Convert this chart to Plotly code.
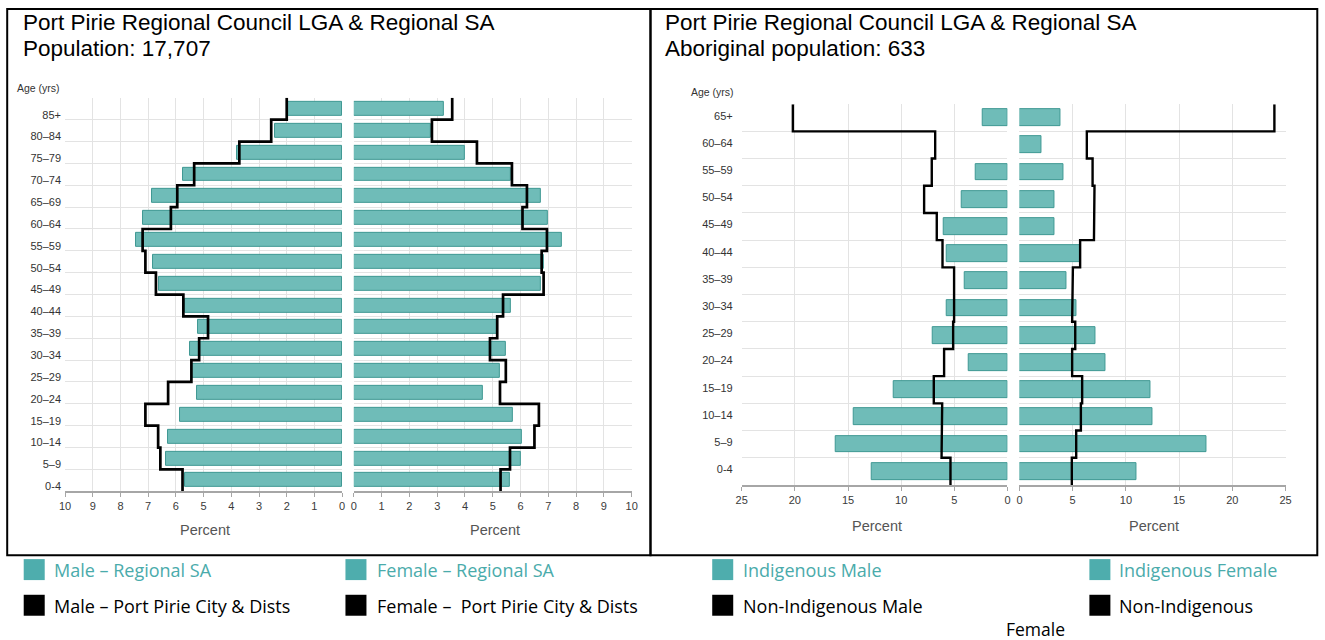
import plotly.graph_objects as go

W, H = 1325, 640

# ---------------- data ----------------
ages_left = ["0-4", "5–9", "10–14", "15–19", "20–24", "25–29", "30–34", "35–39", "40–44",
             "45–49", "50–54", "55–59", "60–64", "65–69", "70–74", "75–79", "80–84", "85+"]
male_regional_sa = [5.68, 6.37, 6.29, 5.85, 5.23, 5.40, 5.50, 5.20, 5.66,
                    6.61, 6.81, 7.43, 7.20, 6.85, 5.73, 3.81, 2.43, 1.97]
male_port_pirie = [5.76, 6.56, 6.64, 7.10, 6.28, 5.44, 5.16, 4.84, 5.73,
                   6.72, 7.10, 7.20, 6.18, 5.95, 5.34, 3.71, 2.56, 2.00]
female_regional_sa = [5.60, 6.00, 6.04, 5.74, 4.65, 5.26, 5.46, 5.16, 5.64,
                      6.73, 6.85, 7.47, 6.99, 6.72, 5.64, 4.00, 2.76, 3.25]
female_port_pirie = [5.28, 5.62, 6.50, 6.66, 5.26, 5.47, 4.90, 5.16, 5.37,
                     6.83, 6.76, 6.95, 6.07, 6.23, 5.69, 4.43, 2.81, 3.54]

ages_right = ["0-4", "5–9", "10–14", "15–19", "20–24", "25–29", "30–34", "35–39",
              "40–44", "45–49", "50–54", "55–59", "60–64", "65+"]
indigenous_male = [12.79, 16.18, 14.48, 10.72, 3.60, 7.05, 5.70, 3.98,
                   5.70, 6.02, 4.33, 3.00, 0.0, 2.35]
non_indigenous_male = [5.36, 6.20, 6.14, 6.93, 5.96, 5.11, 5.02, 5.02,
                       6.11, 6.65, 7.84, 7.12, 6.80, 20.19]
indigenous_female = [11.03, 17.60, 12.50, 12.26, 8.06, 7.12, 5.33, 4.45,
                     5.70, 3.26, 3.26, 4.14, 2.10, 3.89]
non_indigenous_female = [4.92, 5.33, 5.77, 5.89, 4.95, 5.24, 4.95, 5.02,
                         5.70, 7.00, 7.05, 6.87, 6.33, 23.95]

left_ticks = list(range(0, 11))
right_ticks = list(range(0, 26, 5))

# ---------------- styling ----------------
BAR_FILL = "#6fbcb8"
BAR_EDGE = "#3f9893"
GRID = "#e3e3e3"
AXIS = "#a6a6a6"
TEAL_TXT = "#4aabab"
TEAL_SQ = "#4eadad"
FONT = "Liberation Sans, Arial, sans-serif"
LEG_FONT = "Open Sans, Noto Sans, sans-serif"

# horizontal calibration of the rendered page
SX, OX = 0.9905, 6.3


def fx(px):
    return ((px - OX) / SX) / W


def fy(py):
    return 1 - py / H


def step(vals):
    xs, ys = [], []
    for i, v in enumerate(vals):
        xs += [v, v]
        ys += [i - 0.5, i + 0.5]
    return xs, ys


fig = go.Figure()


def add_panel(xa, ya, vals_bar, vals_line, bar_w, lw):
    n = len(vals_bar)
    fig.add_trace(go.Bar(
        x=vals_bar, y=list(range(n)), orientation="h", width=bar_w,
        marker=dict(color=BAR_FILL,
                    line=dict(color=BAR_EDGE, width=[1 if v > 0 else 0 for v in vals_bar])),
        xaxis=xa, yaxis=ya, showlegend=False, hoverinfo="x"))
    xs, ys = step(vals_line)
    fig.add_trace(go.Scatter(
        x=xs, y=ys, mode="lines", line=dict(color="black", width=lw),
        xaxis=xa, yaxis=ya, showlegend=False, hoverinfo="skip", cliponaxis=False))


add_panel("x", "y", male_regional_sa, male_port_pirie, 0.64, 2.7)
add_panel("x2", "y2", female_regional_sa, female_port_pirie, 0.64, 2.7)
add_panel("x3", "y3", indigenous_male, non_indigenous_male, 0.62, 2.4)
add_panel("x4", "y4", indigenous_female, non_indigenous_female, 0.62, 2.4)


def xaxis_cfg(domain, rng, ticks, anchor):
    return dict(domain=domain, range=rng, tickvals=ticks, anchor=anchor,
                showgrid=True, gridcolor=GRID, gridwidth=1, zeroline=False,
                showline=True, linecolor=AXIS, linewidth=1.5,
                ticks="outside", ticklen=4, tickcolor=AXIS, tickwidth=1,
                tickfont=dict(family=FONT, size=11, color="#3a3a3a"),
                fixedrange=True)


def yaxis_cfg(domain, labels, anchor, show_labels, shift, standoff):
    n = len(labels)
    return dict(domain=domain, range=[-0.5, n - 0.5], anchor=anchor,
                tickvals=list(range(n)), ticktext=labels,
                showticklabels=show_labels, showgrid=False, zeroline=False,
                ticks="", ticklabelshift=shift, ticklabelstandoff=standoff,
                tickfont=dict(family=FONT, size=11, color="#333333"),
                minor=dict(tickvals=[i - 0.5 for i in range(n + 1)],
                           showgrid=True, gridcolor=GRID, gridwidth=1, ticks=""),
                fixedrange=True)


left_y = [fy(492), fy(98)]
right_y = [fy(485.7), fy(104.3)]

fig.update_layout(
    width=W, height=H,
    margin=dict(l=0, r=0, t=0, b=0),
    paper_bgcolor="white", plot_bgcolor="white",
    bargap=0, showlegend=False,
    font=dict(family=FONT, color="#000"),
    xaxis=xaxis_cfg([fx(65.3), fx(342.3)], [10, 0], left_ticks, "y"),
    yaxis=yaxis_cfg(left_y, ages_left, "x", True, 6, 3),
    xaxis2=xaxis_cfg([fx(354), fx(631.7)], [0, 10], left_ticks, "y2"),
    yaxis2=yaxis_cfg(left_y, ages_left, "x2", False, 0, 3),
    xaxis3=xaxis_cfg([fx(741.7), fx(1007.3)], [25, 0], right_ticks, "y3"),
    yaxis3=yaxis_cfg(right_y, ages_right, "x3", True, -2, 8),
    xaxis4=xaxis_cfg([fx(1019.3), fx(1285.3)], [0, 25], right_ticks, "y4"),
    yaxis4=yaxis_cfg(right_y, ages_right, "x4", False, 0, 3),
)

shapes = []
# panel borders
for x0, x1 in [(7.5, 650.5), (650.5, 1317)]:
    shapes.append(dict(type="rect", xref="paper", yref="paper",
                       x0=fx(x0), x1=fx(x1), y0=fy(556), y1=fy(9),
                       line=dict(color="black", width=2), fillcolor="rgba(0,0,0,0)",
                       layer="above"))

annotations = []


def txt(x, y, s, size, color="#000", family=FONT, xanchor="left"):
    annotations.append(dict(xref="paper", yref="paper", x=fx(x), y=fy(y), text=s,
                            showarrow=False, xanchor=xanchor, yanchor="middle",
                            font=dict(family=family, size=size, color=color)))


# titles
txt(21, 22.5, "Port Pirie Regional Council LGA & Regional SA", 22.5)
txt(21, 48.5, "Population: 17,707", 22.5)
txt(663, 22.5, "Port Pirie Regional Council LGA & Regional SA", 22.5)
txt(663, 48.5, "Aboriginal population: 633", 22.5)

# axis captions
txt(15, 88, "Age (yrs)", 10.5, "#333")
txt(689, 92, "Age (yrs)", 10.5, "#333")
txt(205, 531, "Percent", 14.5, "#555", xanchor="center")
txt(494.7, 531, "Percent", 14.5, "#555", xanchor="center")
txt(876.7, 526.7, "Percent", 14.5, "#555", xanchor="center")
txt(1154, 526.7, "Percent", 14.5, "#555", xanchor="center")

# custom legend
legend_items = [
    (24, 52.7, 570.5, "Male – Regional SA", TEAL_SQ, TEAL_TXT),
    (24, 52.7, 606.2, "Male – Port Pirie City &amp; Dists", "#000", "#000"),
    (345.6, 375, 570.5, "Female – Regional SA", TEAL_SQ, TEAL_TXT),
    (345.6, 375, 606.2, "Female –\u00a0 Port Pirie City &amp; Dists", "#000", "#000"),
    (712.2, 741.4, 570.5, "Indigenous Male", TEAL_SQ, TEAL_TXT),
    (712.2, 741.4, 606.2, "Non-Indigenous Male", "#000", "#000"),
    (1089.2, 1117.2, 570.5, "Indigenous Female", TEAL_SQ, TEAL_TXT),
    (1089.2, 1117.2, 606.2, "Non-Indigenous", "#000", "#000"),
]
for sq_x, tx, cy, label, sqc, tc in legend_items:
    shapes.append(dict(type="rect", xref="paper", yref="paper",
                       x0=fx(sq_x), x1=fx(sq_x + 21), y0=fy(cy + 10.5), y1=fy(cy - 10.5),
                       line=dict(width=0), fillcolor=sqc))
    txt(tx, cy + 0.5, label, 18, tc, LEG_FONT)
txt(1035, 629.5, "Female", 17.5, "#000", LEG_FONT, xanchor="center")

fig.update_layout(shapes=shapes, annotations=annotations)

fig.write_html("out.html",
               config={"displayModeBar": False},
               post_script="document.body.style.margin='0';document.body.style.overflow='hidden';")
